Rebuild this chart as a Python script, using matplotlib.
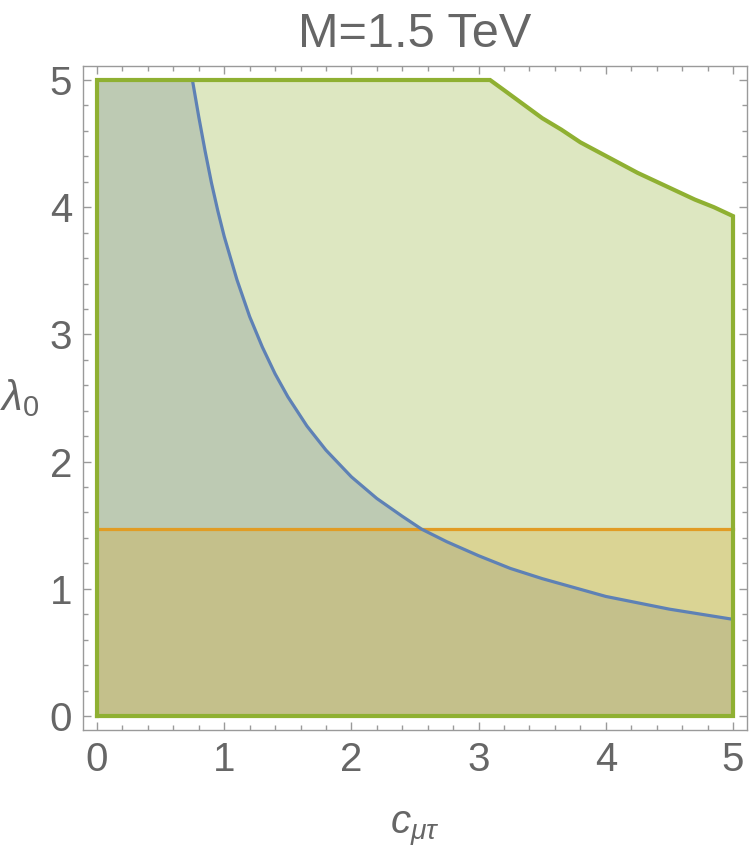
# Region plot: allowed (c_mu_tau, lambda_0) regions for M = 1.5 TeV

import matplotlib.pyplot as plt

plt.rcParams["font.family"] = ["Liberation Sans", "DejaVu Sans"]
plt.rcParams["mathtext.fontset"] = "custom"
plt.rcParams["mathtext.rm"] = "Liberation Sans"
plt.rcParams["mathtext.it"] = "Liberation Sans:italic"

# Upper edge of the green region
green_x = [3.09, 3.20, 3.35, 3.50, 3.65, 3.80, 3.95, 4.10, 4.25, 4.40,
           4.55, 4.70, 4.85, 5.00]
green_y = [5.00, 4.92, 4.81, 4.70, 4.61, 4.51, 4.43, 4.35, 4.27, 4.20,
           4.13, 4.06, 4.00, 3.93]

# Blue boundary curve
blue_x = [0.75, 0.80, 0.85, 0.90, 0.95, 1.00, 1.10, 1.20, 1.30, 1.40,
          1.50, 1.65, 1.80, 2.00, 2.20, 2.40, 2.55, 2.75, 3.00, 3.25,
          3.50, 3.75, 4.00, 4.25, 4.50, 4.75, 5.00]
blue_y = [5.00, 4.71, 4.44, 4.19, 3.97, 3.77, 3.43, 3.14, 2.90, 2.69,
          2.51, 2.28, 2.09, 1.88, 1.71, 1.57, 1.47, 1.37, 1.26, 1.16,
          1.08, 1.01, 0.94, 0.89, 0.84, 0.80, 0.76]

# Orange bound (horizontal)
orange_level = 1.47

x_min, x_max = 0.0, 5.0
y_min, y_max = 0.0, 5.0

c_blue = "#5E81B5"
c_orange = "#E19C24"
c_green = "#8FB032"
fill_blue = "#768A93"
fill_orange = "#D6AB2F"
fill_green = "#8FB032"
c_text = "#666666"
c_frame = "#9a9a9a"

fig = plt.figure(figsize=(7.5, 8.55), dpi=100)
ax = fig.add_axes([0.1107, 0.1462, 0.8853, 0.7766])

# green region outline: left edge, top, curve, right edge, bottom
g_px = [x_min, x_min] + green_x + [x_max, x_min]
g_py = [y_min, y_max] + green_y + [y_min, y_min]

b_px = [x_min, x_min] + blue_x + [x_max, x_min]
b_py = [y_min, y_max] + blue_y + [y_min, y_min]

o_px = [x_min, x_min, x_max, x_max, x_min]
o_py = [y_min, orange_level, orange_level, y_min, y_min]

ax.fill(g_px, g_py, color=fill_green, alpha=0.3, lw=0)
ax.fill(b_px, b_py, color=fill_blue, alpha=0.3, lw=0)
ax.fill(o_px, o_py, color=fill_orange, alpha=0.3, lw=0)

ax.plot([x_min, x_max], [orange_level, orange_level], color=c_orange, lw=2.3)
ax.plot(blue_x, blue_y, color=c_blue, lw=2.3)
ax.plot(g_px, g_py, color=c_green, lw=3, solid_joinstyle="miter")

pad = 0.11
ax.set_xlim(x_min - pad, x_max + pad)
ax.set_ylim(y_min - pad, y_max + pad)

ax.set_xticks(range(6))
ax.set_yticks(range(6))
ax.set_xticks([i * 0.2 for i in range(26)], minor=True)
ax.set_yticks([i * 0.2 for i in range(26)], minor=True)
ax.tick_params(which="both", direction="in", top=True, right=True,
               color=c_frame, width=1.0)
ax.tick_params(which="major", length=6, labelsize=29, labelcolor=c_text, pad=8)
ax.tick_params(which="minor", length=3.5)
for s in ax.spines.values():
    s.set_color(c_frame)
    s.set_linewidth(1.0)

ax.set_title("M=1.5 TeV", fontsize=35, color=c_text, pad=14)
ax.set_xlabel(r"$c_{\mu\tau}$", fontsize=29, color=c_text)
ax.xaxis.set_label_coords(0.5, -0.148)
ax.xaxis.label.set_va("center")
ax.set_ylabel(r"$\lambda_{\mathrm{0}}$", fontsize=30, color=c_text,
              rotation=0, ha="center", va="center")
ax.yaxis.set_label_coords(-0.096, 0.5)

fig.savefig("out.png", dpi=100)
